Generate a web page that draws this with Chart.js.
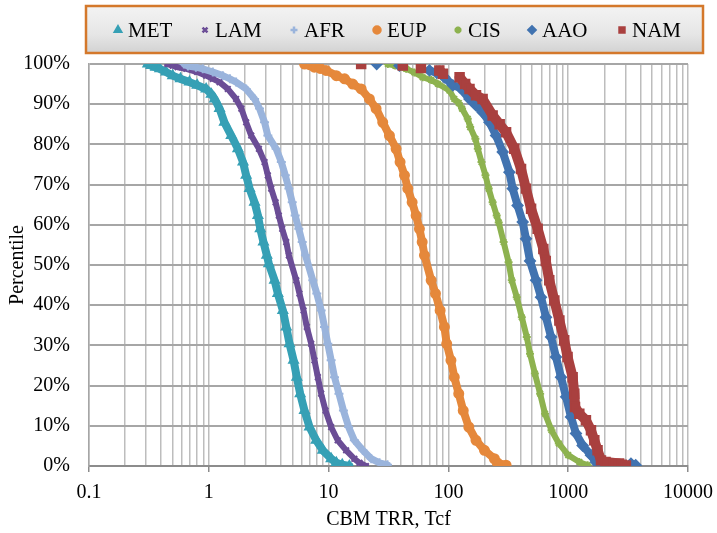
<!DOCTYPE html>
<html>
<head>
<meta charset="utf-8">
<title>CBM TRR percentile</title>
<script src="https://cdn.jsdelivr.net/npm/chart.js@4.4.1/dist/chart.umd.min.js"></script>
<style>
  body { margin: 0; background: #fff; }
  canvas { display: block; }
</style>
</head>
<body>
<canvas id="chart" width="717" height="533"></canvas>
<script>
// CBM technically recoverable resources (Tcf) vs. percentile
const seriesNames = ['MET', 'LAM', 'AFR', 'EUP', 'CIS', 'AAO', 'NAM'];

const metTrr = [0.31, 0.33, 0.36, 0.39, 0.44, 0.50, 0.58, 0.69, 0.80, 0.95, 1.05, 1.12, 1.23, 1.35, 1.54, 1.75, 1.93, 2.05, 2.19, 2.41, 2.57, 2.69, 2.86, 3.05, 3.17, 3.54, 3.77, 4.15, 4.43, 4.72, 5.10, 5.43, 5.79, 6.29, 6.93, 7.88, 8.95, 10.5, 11.6, 13.0, 14.9];
const metPct = [100, 99.6, 99.2, 98.8, 98.0, 97.1, 96.3, 95.5, 94.7, 93.8, 92.5, 91.3, 88.9, 85.5, 82.2, 78.9, 75.6, 72.3, 69.0, 65.6, 62.3, 59.0, 55.7, 52.4, 50.3, 46.2, 42.9, 38.7, 34.6, 30.4, 26.3, 22.1, 18.0, 13.8, 9.7, 6.4, 3.9, 1.8, 0.8, 0.3, 0];

const lamTrr = [0.45, 0.50, 0.55, 0.65, 0.80, 0.95, 1.08, 1.23, 1.44, 1.69, 1.87, 2.05, 2.26, 2.62, 2.92, 3.11, 3.32, 3.61, 3.84, 4.10, 4.43, 4.66, 5.37, 5.71, 6.18, 6.58, 7.16, 7.62, 8.13, 8.67, 9.42, 10.5, 11.9, 14.0, 16.4, 18.1, 20.5];
const lamPct = [100, 99.6, 99.2, 98.8, 98.0, 97.1, 96.3, 95.5, 93.8, 91.3, 88.9, 85.5, 82.2, 78.9, 75.6, 72.3, 69.0, 65.6, 62.3, 59.0, 55.7, 52.4, 46.2, 42.9, 38.7, 34.6, 30.4, 26.3, 22.1, 18.0, 13.8, 9.7, 6.4, 3.9, 1.8, 0.8, 0];

const afrTrr = [0.62, 0.67, 0.78, 0.89, 1.08, 1.31, 1.50, 1.69, 2.05, 2.41, 2.65, 2.92, 3.11, 3.65, 4.03, 4.35, 4.66, 4.97, 5.26, 5.64, 6.02, 6.41, 7.38, 7.97, 8.67, 9.24, 9.85, 10.5, 11.2, 12.2, 13.3, 14.7, 16.4, 19.3, 22.7, 26.6, 31.0];
const afrPct = [100, 99.5, 99.2, 98.8, 98.0, 97.1, 96.3, 95.5, 93.8, 91.3, 88.9, 85.5, 82.2, 78.9, 75.6, 72.3, 69.0, 65.6, 62.3, 59.0, 55.7, 52.4, 46.2, 42.9, 38.7, 34.6, 30.4, 26.3, 22.1, 18.0, 13.8, 9.7, 6.4, 3.9, 1.8, 0.8, 0.3];

const eupTrr = [6.3, 7.0, 7.6, 8.5, 9.5, 11.6, 13.6, 15.9, 18.7, 21.9, 24.9, 28.3, 32.2, 36.6, 39.5, 43.0, 45.8, 49.8, 53.8, 57.3, 60.4, 63.1, 71.8, 78.0, 85.3, 92.6, 96.8, 105, 112, 122, 133, 148, 170, 200, 242, 256, 303];
const eupPct = [100, 99.8, 99.2, 98.9, 98.4, 97.1, 96.3, 95.0, 93.8, 91.3, 88.9, 85.5, 82.2, 78.9, 75.6, 72.3, 69.0, 65.6, 62.3, 59.0, 55.7, 52.4, 46.2, 42.9, 38.7, 34.6, 30.4, 26.3, 22.1, 18.0, 13.8, 9.7, 6.4, 3.9, 1.8, 0.8, 0.2];

const cisTrr = [31.2, 36, 44.4, 52, 61, 72, 81.5, 102, 112, 122, 130, 145, 152, 168, 176, 189, 204, 217, 234, 253, 263, 289, 318, 338, 372, 410, 451, 480, 527, 583, 640, 725, 835, 1000, 1238, 1452];
const cisPct = [100, 99.6, 98.8, 97.9, 96.7, 96.0, 95.1, 93.4, 91.3, 90.3, 88.9, 86.4, 84.3, 81.4, 78.9, 75.6, 72.3, 69.0, 65.6, 62.3, 60.6, 55.7, 50.7, 46.2, 42.0, 37.0, 32.1, 27.9, 23.0, 18.0, 13.0, 8.9, 5.6, 2.7, 1.0, 0.2];

const aaoTrr = [25.2, 39, 69.5, 80, 92.6, 109, 124, 150, 170, 193, 220, 250, 284, 323, 344, 378, 417, 444, 480, 539, 593, 653, 719, 791, 871, 959, 1055, 1161, 1319, 1549, 1706, 1800, 3340, 3660];
const aaoPct = [100, 99.6, 98.4, 97.8, 96.7, 94.7, 94.2, 91.3, 89.7, 88.0, 85.5, 82.2, 78.1, 73.1, 69.0, 64.8, 60.7, 56.5, 51.0, 46.2, 42.0, 37.0, 32.1, 27.1, 22.1, 17.2, 12.2, 8.1, 5.1, 2.7, 1.0, 0.4, 0.6, 0.2];

const namTrr = [18.7, 41.6, 59, 84, 90, 124, 138, 150, 170, 193, 234, 268, 303, 355, 404, 444, 490, 556, 620, 650, 695, 766, 844, 926, 988, 1089, 1124, 1140, 1238, 1406, 1549, 1652, 1758, 1878, 2050, 2660, 2800, 3030];
const namPct = [100, 99.6, 99.0, 98.4, 97.6, 96.7, 95.0, 93.8, 92.2, 91.3, 87.2, 85.0, 83.0, 78.9, 73.9, 69.0, 64.0, 59.0, 54.0, 51.0, 46.2, 41.2, 36.2, 31.3, 27.1, 22.1, 18.0, 14.7, 13.0, 11.4, 8.9, 6.4, 3.9, 1.4, 1.0, 0.6, 0.3, 0.1];

const xMajorTicks = [0.1, 1, 10, 100, 1000, 10000];
const xTickLabels = ['0.1', '1', '10', '100', '1000', '10000'];
const yTicks = [0, 10, 20, 30, 40, 50, 60, 70, 80, 90, 100];

const serif = "'Liberation Serif', 'Times New Roman', serif";

const styles = [
  { color: '#36a0b5', point: 'triangle', radius: 5, line: 8 },
  { color: '#6b4d96', point: 'crossRot', radius: 4, line: 6 },
  { color: '#9ab4dc', point: 'cross', radius: 4.5, line: 7 },
  { color: '#e5883b', point: 'circle', radius: 4.5, line: 8 },
  { color: '#8db24f', point: 'star', radius: 4, line: 6 },
  { color: '#4173b0', point: 'rectRot', radius: 5, line: 8 },
  { color: '#a9403f', point: 'rect', radius: 6, line: 10 }
];

const allTrr = [metTrr, lamTrr, afrTrr, eupTrr, cisTrr, aaoTrr, namTrr];
const allPct = [metPct, lamPct, afrPct, eupPct, cisPct, aaoPct, namPct];

const datasets = seriesNames.map((name, i) => {
  const s = styles[i];
  return {
    label: name,
    data: allTrr[i].map((x, j) => ({ x: x, y: allPct[i][j] })),
    showLine: true,
    borderColor: s.color,
    backgroundColor: s.color,
    borderWidth: s.line,
    borderCapStyle: 'round',
    borderJoinStyle: 'round',
    pointStyle: s.point,
    pointRadius: s.radius,
    pointBorderWidth: 2,
    pointBackgroundColor: s.color,
    pointBorderColor: s.color,
    order: seriesNames.length - i,
    // the sparse tails are loose markers, only the dense part reads as a band
    segment: {
      borderColor: ctx => Math.abs(ctx.p1.x - ctx.p0.x) > 14 ? 'rgba(0,0,0,0)' : s.color
    }
  };
});

// framed legend like the spreadsheet one
const legendX = [128, 215, 304, 387, 468, 542, 632];
const boxLegend = {
  id: 'boxLegend',
  afterDraw(chart) {
    const ctx = chart.ctx;
    ctx.save();
    const g = ctx.createLinearGradient(0, 6, 0, 53);
    g.addColorStop(0, '#f3f3f3');
    g.addColorStop(0.6, '#e6e6e6');
    g.addColorStop(1, '#d2d2d2');
    ctx.fillStyle = g;
    ctx.fillRect(86, 6, 617, 47);
    ctx.strokeStyle = '#d4782b';
    ctx.lineWidth = 2.5;
    ctx.strokeRect(86, 6, 617, 47);

    ctx.font = '21px ' + serif;
    ctx.textBaseline = 'middle';
    ctx.textAlign = 'left';
    seriesNames.forEach((name, i) => {
      const s = styles[i];
      ctx.fillStyle = s.color;
      ctx.strokeStyle = s.color;
      Chart.helpers.drawPoint(ctx, {
        pointStyle: s.point, radius: 3.5, borderWidth: 1.5, rotation: 0
      }, legendX[i] - 10, 30);
      ctx.fillStyle = '#000';
      ctx.fillText(name, legendX[i], 31);
    });
    ctx.restore();
  }
};

new Chart(document.getElementById('chart'), {
  type: 'scatter',
  data: { datasets: datasets },
  options: {
    responsive: false,
    animation: false,
    layout: { padding: { left: 6, right: 29, top: 64, bottom: 1 } },
    plugins: {
      legend: { display: false },
      tooltip: { enabled: false }
    },
    scales: {
      x: {
        type: 'logarithmic',
        min: 0.1,
        max: 10000,
        afterBuildTicks: scale => {
          const ticks = [];
          xMajorTicks.forEach(v => {
            for (let k = 1; k <= 9; k++) {
              const t = +(v * k).toPrecision(6);
              if (t <= 10000) ticks.push({ value: t });
            }
          });
          scale.ticks = ticks;
        },
        afterFit: scale => {
          scale.height = 66;
          // outer padding already leaves room for the end labels
          scale.paddingLeft = 0;
          scale.paddingRight = 0;
        },
        ticks: {
          autoSkip: false,
          maxRotation: 0,
          padding: 9,
          color: '#000',
          font: { family: serif, size: 20 },
          callback: v => {
            const idx = xMajorTicks.indexOf(v);
            return idx >= 0 ? xTickLabels[idx] : '';
          }
        },
        grid: {
          color: '#bdbdbd',
          lineWidth: 1.5,
          tickLength: 6,
          tickColor: ctx => (ctx.tick && xMajorTicks.indexOf(ctx.tick.value) >= 0) ? '#8c8c8c' : 'rgba(0,0,0,0)'
        },
        border: { color: '#8c8c8c', width: 2 },
        title: {
          display: true,
          text: 'CBM TRR, Tcf',
          color: '#000',
          padding: 0,
          font: { family: serif, size: 20 }
        }
      },
      y: {
        min: 0,
        max: 100,
        afterBuildTicks: scale => { scale.ticks = yTicks.map(v => ({ value: v })); },
        afterFit: scale => { scale.width = 83; },
        ticks: {
          padding: 19,
          color: '#000',
          font: { family: serif, size: 20 },
          callback: v => v + '%'
        },
        grid: { color: '#a6a6a6', lineWidth: 2, drawTicks: false },
        border: { color: '#a6a6a6', width: 1.5 },
        title: {
          display: true,
          text: 'Percentile',
          color: '#000',
          padding: 0,
          font: { family: serif, size: 20 }
        }
      }
    }
  },
  plugins: [boxLegend]
});
</script>
</body>
</html>
